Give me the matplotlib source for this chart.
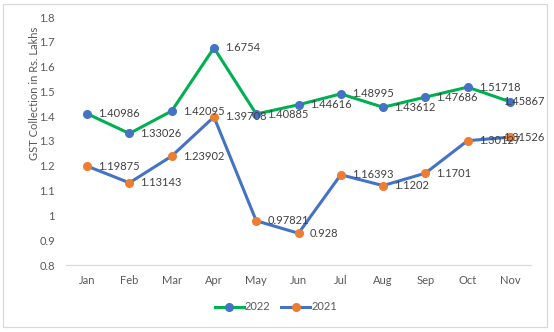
import matplotlib
matplotlib.use("Agg")
import matplotlib.pyplot as plt
from matplotlib.patches import Rectangle
from matplotlib.lines import Line2D

# Monthly GST collection (Rs. Lakhs)
months = ["Jan", "Feb", "Mar", "Apr", "May", "Jun", "Jul", "Aug", "Sep", "Oct", "Nov"]
gst_2022 = [1.40986, 1.33026, 1.42095, 1.6754, 1.40885, 1.44616, 1.48995, 1.43612, 1.47686, 1.51718, 1.45867]
gst_2021 = [1.19875, 1.13143, 1.23902, 1.39708, 0.97821, 0.928, 1.16393, 1.1202, 1.1701, 1.30127, 1.31526]
y_ticks = [0.8, 0.9, 1.0, 1.1, 1.2, 1.3, 1.4, 1.5, 1.6, 1.7, 1.8]

GREEN = "#00B050"
BLUE = "#4472C4"
ORANGE = "#ED7D31"
TICK_COLOR = "#595959"
LABEL_COLOR = "#404040"
FONT = ["Lato", "DejaVu Sans"]
FS = 8.0

plt.rcParams["font.family"] = FONT

W, H = 554, 332
fig = plt.figure(figsize=(W / 100, H / 100), dpi=100)
fig.patch.set_facecolor("white")

# chart border
fig.patches.append(Rectangle((3 / W, 5 / H), 544 / W, 323 / H, transform=fig.transFigure,
                             fill=False, edgecolor="#D9D9D9", linewidth=0.9))

ax = fig.add_axes([66 / W, 67 / H, (531 - 66) / W, (265 - 17) / H])
x = list(range(len(months)))

ax.plot(x, gst_2022, color=GREEN, linewidth=2.2, marker="o", markersize=5.5,
        markerfacecolor=BLUE, markeredgecolor=BLUE, zorder=3, clip_on=False)
ax.plot(x, gst_2021, color=BLUE, linewidth=2.2, marker="o", markersize=5.5,
        markerfacecolor=ORANGE, markeredgecolor=ORANGE, zorder=4, clip_on=False)

def label_points(values):
    for i, v in enumerate(values):
        dx = -5 if i == len(values) - 1 else 8
        ax.annotate(f"{v:g}", (i, v), xytext=(dx, 0), textcoords="offset points",
                    ha="left", va="center", fontsize=FS, color=LABEL_COLOR, zorder=6)

label_points(gst_2022)
label_points(gst_2021)

ax.set_xlim(-0.5, len(months) - 0.5)
ax.set_ylim(0.8, 1.8)
ax.set_xticks(x)
ax.set_xticklabels(months)
ax.set_yticks(y_ticks)
ax.set_yticklabels([f"{t:g}" for t in y_ticks])
ax.tick_params(axis="both", length=0, labelsize=FS, labelcolor=TICK_COLOR)
ax.tick_params(axis="y", pad=8)
ax.tick_params(axis="x", pad=7)
for side in ["top", "right", "left"]:
    ax.spines[side].set_visible(False)
ax.spines["bottom"].set_color("#D9D9D9")
ax.spines["bottom"].set_linewidth(0.9)
ax.set_facecolor("none")

fig.text(35 / W, 1 - 93 / H, "GST Collection in Rs. Lakhs", rotation=90,
         ha="center", va="center", fontsize=FS, color=TICK_COLOR)

handles = [
    Line2D([], [], color=GREEN, linewidth=2.2, marker="o", markersize=5.5,
           markerfacecolor=BLUE, markeredgecolor=BLUE),
    Line2D([], [], color=BLUE, linewidth=2.2, marker="o", markersize=5.5,
           markerfacecolor=ORANGE, markeredgecolor=ORANGE),
]
leg = fig.legend(handles, ["2022", "2021"], loc="center", bbox_to_anchor=(276 / W, 1 - 307 / H),
                 ncol=2, frameon=False, fontsize=FS, handlelength=2.6, handletextpad=0.1,
                 columnspacing=1.0, borderpad=0, borderaxespad=0)
for t in leg.get_texts():
    t.set_color(TICK_COLOR)

fig.savefig("out.png", dpi=100, facecolor="white")
